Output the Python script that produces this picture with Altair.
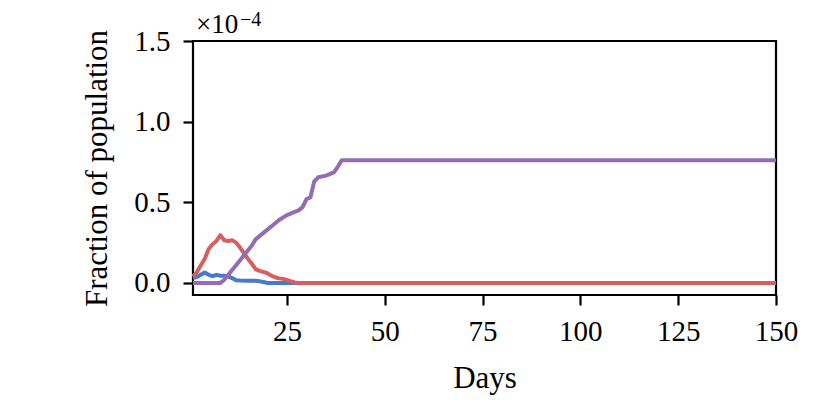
import altair as alt
import pandas as pd

# values in units of 1e-4 (fraction of population)
blue_days = [1, 2, 3, 4, 5, 6, 7, 8, 9, 10, 11, 12, 13, 15, 17, 18, 19, 20, 150]
blue_vals = [0.03, 0.037, 0.05, 0.064, 0.05, 0.042, 0.05, 0.044, 0.044, 0.04, 0.03, 0.017, 0.015, 0.014, 0.013, 0.01, 0.006, 0.0, 0.0]

red_days = [1, 2, 3, 4, 5, 6, 7, 8, 9, 10, 11, 12, 13, 14, 15, 16, 17, 18, 19, 20, 21, 22, 23, 24, 25, 26, 27, 28, 150]
red_vals = [0.04, 0.068, 0.11, 0.15, 0.21, 0.24, 0.26, 0.296, 0.265, 0.26, 0.265, 0.25, 0.22, 0.185, 0.15, 0.12, 0.085, 0.075, 0.068, 0.06, 0.045, 0.035, 0.028, 0.025, 0.018, 0.01, 0.003, 0.0, 0.0]

purple_days = [1, 8, 9, 11, 12, 14, 16, 17, 19, 21, 23, 25, 27, 28, 29, 30, 31, 32, 33, 35, 37, 38, 39, 150]
purple_vals = [0.0, 0.0, 0.02, 0.08, 0.11, 0.17, 0.23, 0.27, 0.31, 0.35, 0.39, 0.42, 0.44, 0.45, 0.47, 0.52, 0.53, 0.63, 0.655, 0.665, 0.685, 0.72, 0.76, 0.76]

x_ticks = [25, 50, 75, 100, 125, 150]
y_ticks = [0.0, 0.5, 1.0, 1.5]

FONT = "Liberation Serif"

xenc = alt.X("day:Q", scale=alt.Scale(domain=[1, 150], nice=False, zero=False),
             axis=alt.Axis(values=x_ticks, title="Days", titleX=291.5, titleY=92,
                           labelFlush=False,
                           titleBaseline="alphabetic", titleAlign="center"))
yenc = alt.Y("val:Q", scale=alt.Scale(domain=[-0.075, 1.5], nice=False, zero=False),
             axis=alt.Axis(values=y_ticks, format=".1f", title="Fraction of population",
                           titleX=-87, titleY=127, titleAngle=270,
                           titleBaseline="alphabetic", titleAlign="center"))


def series(days, vals, color):
    df = pd.DataFrame({"day": days, "val": vals})
    return alt.Chart(df).mark_line(color=color, strokeWidth=4, strokeJoin="round").encode(x=xenc, y=yenc)


layers = [
    series(blue_days, blue_vals, "#4878d0"),
    series(red_days, red_vals, "#d65f5f"),
    series(purple_days, purple_vals, "#956cb4"),
]

t1 = alt.Chart(pd.DataFrame({"t": ["×10"]})).mark_text(
    font=FONT, fontSize=27, align="left", baseline="alphabetic", color="black"
).encode(x=alt.value(3), y=alt.value(-8), text="t:N")
t2 = alt.Chart(pd.DataFrame({"t": ["−4"]})).mark_text(
    font=FONT, fontSize=20, align="left", baseline="alphabetic", color="black"
).encode(x=alt.value(47), y=alt.value(-15), text="t:N")

chart = alt.layer(*layers, t1, t2).properties(
    width=583, height=254,
    autosize=alt.AutoSizeParams(type="none"),
    padding={"left": 185, "top": 33, "right": 46, "bottom": 100},
).configure_view(
    stroke="black", strokeWidth=2.2
).configure_axis(
    grid=False, domain=False, ticks=True, tickSize=10, tickWidth=2.2, tickColor="black",
    labelFont=FONT, labelFontSize=29, labelColor="black", labelPadding=12,
    titleFont=FONT, titleFontSize=31, titleFontWeight="normal", titleColor="black",
).configure_axisY(labelPadding=13)

chart.save("out.html", embed_options={"renderer": "svg", "actions": False})
